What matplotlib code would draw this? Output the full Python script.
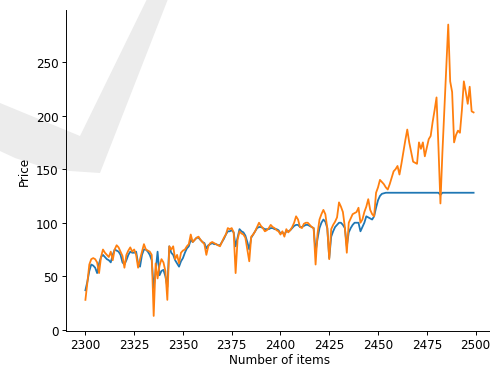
import matplotlib
matplotlib.use("Agg")
import matplotlib.pyplot as plt
from matplotlib.patches import Polygon

items = list(range(2300, 2500))

actual = [
    28, 44, 61, 66, 67, 66, 63, 53, 68, 75,
    72, 70, 68, 73, 65, 75, 79, 77, 73, 69,
    58, 70, 74, 77, 73, 75, 70, 58, 66, 73,
    80, 75, 74, 73, 70, 13, 62, 48, 60, 66,
    63, 55, 28, 78, 75, 78, 66, 70, 62, 72,
    74, 75, 78, 80, 89, 82, 84, 86, 87, 84,
    82, 80, 70, 78, 81, 82, 81, 80, 79, 78,
    82, 86, 89, 95, 94, 95, 91, 53, 84, 92,
    90, 89, 86, 75, 64, 87, 89, 92, 96, 100,
    97, 95, 92, 93, 95, 98, 96, 95, 93, 92,
    89, 92, 87, 94, 91, 93, 96, 100, 106, 103,
    96, 95, 99, 100, 100, 98, 96, 95, 61, 90,
    103, 108, 112, 108, 95, 66, 94, 98, 101, 105,
    119, 115, 110, 96, 72, 100, 104, 108, 109, 110,
    114, 100, 103, 110, 115, 122, 112, 108, 106, 128,
    133, 140, 138, 136, 133, 131, 136, 142, 148, 150,
    153, 145, 155, 166, 177, 187, 175, 166, 157, 156,
    155, 175, 169, 175, 162, 170, 178, 181, 194, 205,
    217, 170, 118, 165, 205, 245, 285, 232, 222, 175,
    182, 186, 184, 205, 232, 222, 211, 227, 204, 203,
]

predicted = [
    37, 45, 55, 61, 60, 58, 53, 62, 68, 70,
    68, 66, 65, 63, 70, 75, 74, 73, 70, 63,
    61, 65, 70, 73, 72, 72, 73, 62, 59, 70,
    75, 75, 73, 70, 65, 39, 55, 73, 51, 55,
    56, 50, 40, 78, 72, 70, 65, 62, 59, 64,
    67, 72, 76, 78, 84, 82, 84, 86, 86, 84,
    82, 81, 76, 79, 80, 81, 80, 80, 79, 79,
    82, 85, 89, 92, 92, 93, 91, 78, 86, 94,
    92, 91, 88, 82, 75, 86, 89, 92, 95, 96,
    96, 95, 94, 94, 94, 95, 95, 94, 94, 93,
    90, 91, 89, 92, 92, 93, 95, 97, 98, 98,
    96, 96, 97, 98, 98, 97, 96, 95, 73, 85,
    95, 100, 103, 101, 95, 67, 87, 92, 96, 98,
    100, 100, 98, 95, 78, 91, 95, 98, 100, 100,
    100, 92, 96, 100, 106, 105, 104, 103, 106, 114,
    121, 125, 127, 127.5, 128, 128, 128, 128, 128, 128,
    128, 128, 128, 128, 128, 128, 128, 128, 128, 128,
    128, 128, 128, 128, 128, 128, 128, 128, 128, 128,
    128, 128, 126, 128, 128, 128, 128, 128, 128, 128,
    128, 128, 128, 128, 128, 128, 128, 128, 128, 128,
]

W, H = 490, 367
DPI = 86
fig = plt.figure(figsize=(W / DPI, H / DPI), dpi=DPI)

# watermark (pixel coords, y measured from top)
wm_px = [(0, 104), (80, 137), (147, 0), (168, 0), (100, 174), (70, 172),
         (40, 167), (15, 159), (0, 152)]
wm = Polygon([(x / W, 1 - y / H) for x, y in wm_px], closed=True,
             transform=fig.transFigure, facecolor="#ececec", edgecolor="none",
             zorder=-10)
fig.patches.append(wm)

ax = fig.add_axes([66 / W, 35.5 / H, (493 - 66) / W, (331.5 - 11) / H])
ax.set_facecolor("none")
ax.plot(items, predicted, color="#1f77b4", linewidth=1.5)
ax.plot(items, actual, color="#ff7f0e", linewidth=1.5)
ax.spines["top"].set_visible(False)
ax.spines["right"].set_visible(False)
ax.set_xticks([2300, 2325, 2350, 2375, 2400, 2425, 2450, 2475, 2500])
ax.set_yticks([0, 50, 100, 150, 200, 250])
ax.tick_params(pad=2.8)
ax.set_xlabel("Number of items", labelpad=2)
ax.set_ylabel("Price")

fig.savefig("out.png", dpi=DPI)
